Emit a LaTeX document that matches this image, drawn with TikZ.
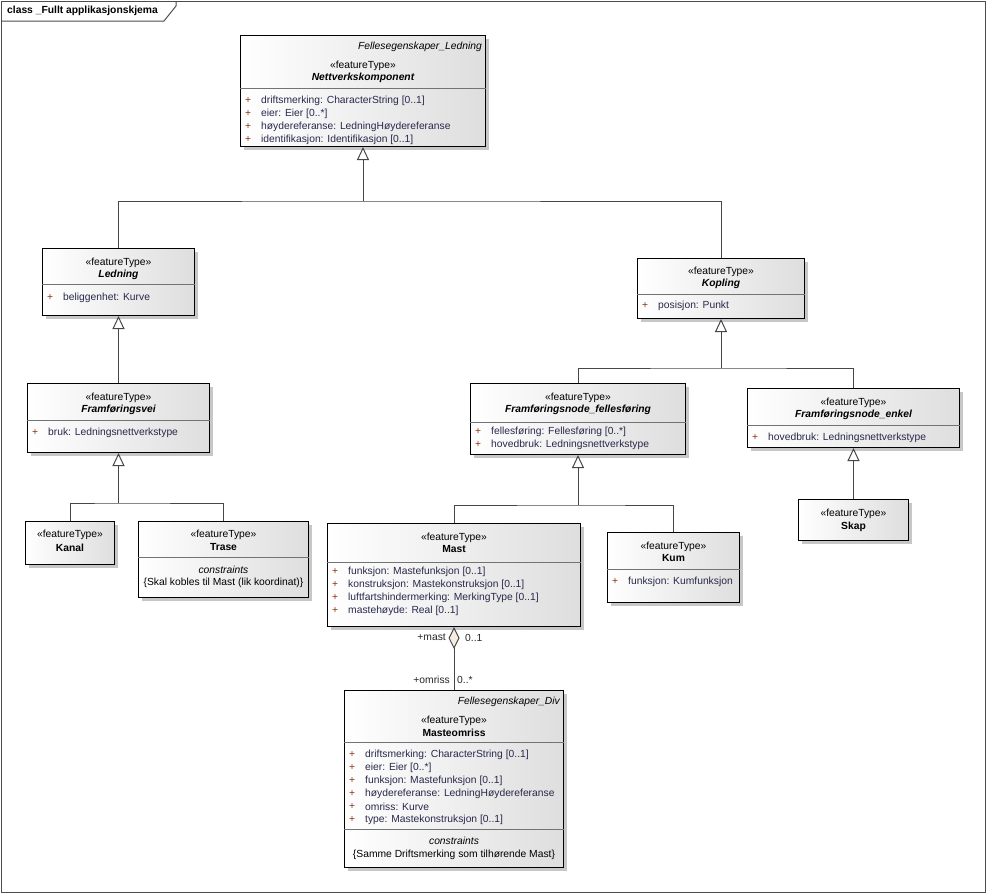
\documentclass[tikz,border=0pt]{standalone}
\usepackage{fontspec}
\setmainfont{Liberation Sans}
\usepackage{tikz}
\usetikzlibrary{positioning, arrows.meta, shadows}
\tikzstyle{diagram} = [x = 1pt, y = -1pt, every node/.style={font=\fontsize{10.3}{12}\selectfont, inner sep=0pt}]
\definecolor{lineColor}{RGB}{70,70,70}
\definecolor{boxShade}{RGB}{222,222,222}
\definecolor{plusColor}{RGB}{140,50,20}
\definecolor{attrColor}{RGB}{40,40,75}
\definecolor{diamondColor}{RGB}{245,237,224}
\tikzstyle{classStyle} = [draw=black, line width=1pt, anchor=north west, left color=white, right color=boxShade, drop shadow={shadow xshift=3pt, shadow yshift=-3pt, fill=black!40, opacity=0.55}]
\tikzstyle{compartmentLine} = [color=black!55, line width=0.8pt]
\tikzstyle{boxText} = [yshift=-1.5pt]
\tikzstyle{stereoText} = [boxText, anchor=center]
\tikzstyle{abstractText} = [boxText, anchor=center, font=\fontsize{10.3}{12}\selectfont\bfseries\itshape]
\tikzstyle{concreteText} = [boxText, anchor=center, font=\fontsize{10.3}{12}\selectfont\bfseries]
\tikzstyle{plusText} = [boxText, anchor=west, xshift=5pt, color=plusColor]
\tikzstyle{attrText} = [boxText, anchor=west, xshift=21pt, color=attrColor]
\tikzstyle{packageText} = [boxText, anchor=east, xshift=-4pt, font=\fontsize{10.3}{12}\selectfont\itshape]
\tikzstyle{constraintText} = [boxText, anchor=center]
\tikzstyle{roleText} = [color=black!85]
\tikzstyle{connLine} = [color=lineColor, line width=1pt]
\tikzstyle{genLine} = [connLine, -{Triangle[open, fill=white, length=13pt, width=12pt, line width=1pt]}]
\tikzstyle{aggLine} = [connLine, {Diamond[fill=diamondColor, length=22pt, width=11pt, line width=1pt]}-]
\tikzstyle{frameLine} = [color=black!70, line width=1pt]
\newcommand{\classBox}[5]{\node [classStyle, minimum width = #4pt, minimum height = #5pt] (#1) at (#2, #3) {};}
\newcommand{\sepLine}[2]{\draw [compartmentLine] (#1.west |- 0, #2) -- (#1.east |- 0, #2);}
\newcommand{\stereoType}[2]{\node [stereoText] (#1-stereo) at (#1.north |- 0, #2) {«featureType»};}
\newcommand{\abstractName}[3]{\node [abstractText] (#1-name) at (#1.north |- 0, #2) {#3};}
\newcommand{\concreteName}[3]{\node [concreteText] (#1-name) at (#1.north |- 0, #2) {#3};}
\newcommand{\classAttr}[4]{\node [plusText] (#1-plus#2) at (#1.west |- 0, #3) {+}; \node [attrText] (#1-attr#2) at (#1.west |- 0, #3) {#4};}
\newcommand{\packageName}[3]{\node [packageText] (#1-package) at (#1.east |- 0, #2) {#3};}

\begin{document}
\begin{tikzpicture}[diagram]
  \useasboundingbox (0,0) rectangle (986,894);
  \draw [frameLine] (1,1) rectangle (985,892);
  \draw [frameLine] (1,21) -- (164,21) -- (176,6) -- (176,1);
  \node [anchor=west, font=\fontsize{10.3}{12}\selectfont\bfseries] (frameTitle) at (7,11) {class \_Fullt applikasjonskjema};

  \classBox{nettverk}{240}{35}{245}{111}
  \sepLine{nettverk}{88}
  \packageName{nettverk}{45}{Fellesegenskaper\_Ledning}
  \stereoType{nettverk}{64}
  \abstractName{nettverk}{76}{Nettverkskomponent}
  \classAttr{nettverk}{1}{99}{driftsmerking: CharacterString [0..1]}
  \classAttr{nettverk}{2}{112}{eier: Eier [0..*]}
  \classAttr{nettverk}{3}{125}{høydereferanse: LedningHøydereferanse}
  \classAttr{nettverk}{4}{138}{identifikasjon: Identifikasjon [0..1]}

  \classBox{ledning}{42}{248}{152}{67}
  \sepLine{ledning}{284}
  \stereoType{ledning}{261}
  \abstractName{ledning}{273}{Ledning}
  \classAttr{ledning}{1}{296}{beliggenhet: Kurve}

  \classBox{kopling}{637}{258}{167}{60}
  \sepLine{kopling}{294}
  \stereoType{kopling}{270}
  \abstractName{kopling}{282}{Kopling}
  \classAttr{kopling}{1}{304}{posisjon: Punkt}

  \classBox{framvei}{27}{383}{182}{69}
  \sepLine{framvei}{420}
  \stereoType{framvei}{396}
  \abstractName{framvei}{408}{Framføringsvei}
  \classAttr{framvei}{1}{431}{bruk: Ledningsnettverkstype}

  \classBox{fellesf}{470}{383}{215}{71}
  \sepLine{fellesf}{422}
  \stereoType{fellesf}{396}
  \abstractName{fellesf}{408}{Framføringsnode\_fellesføring}
  \classAttr{fellesf}{1}{430}{fellesføring: Fellesføring [0..*]}
  \classAttr{fellesf}{2}{443}{hovedbruk: Ledningsnettverkstype}

  \classBox{enkel}{747}{388}{212}{59}
  \sepLine{enkel}{425}
  \stereoType{enkel}{401}
  \abstractName{enkel}{413}{Framføringsnode\_enkel}
  \classAttr{enkel}{1}{436}{hovedbruk: Ledningsnettverkstype}

  \classBox{kanal}{25}{521}{89}{43}
  \stereoType{kanal}{533}
  \concreteName{kanal}{546}{Kanal}

  \classBox{trase}{138}{521}{170}{76}
  \sepLine{trase}{557}
  \stereoType{trase}{533}
  \concreteName{trase}{546}{Trase}
  \node [constraintText, font=\fontsize{10.3}{12}\selectfont\itshape] (trase-ctitle) at (trase.north |- 0, 568) {constraints};
  \node [constraintText] (trase-ctext) at (trase.north |- 0, 581) {\{Skal kobles til Mast (lik koordinat)\}};

  \classBox{mast}{327}{523}{253}{103}
  \sepLine{mast}{562}
  \stereoType{mast}{536}
  \concreteName{mast}{548}{Mast}
  \classAttr{mast}{1}{570}{funksjon: Mastefunksjon [0..1]}
  \classAttr{mast}{2}{583}{konstruksjon: Mastekonstruksjon [0..1]}
  \classAttr{mast}{3}{596}{luftfartshindermerking: MerkingType [0..1]}
  \classAttr{mast}{4}{609}{mastehøyde: Real [0..1]}

  \classBox{kum}{607}{532}{132}{70}
  \sepLine{kum}{569}
  \stereoType{kum}{545}
  \concreteName{kum}{557}{Kum}
  \classAttr{kum}{1}{580}{funksjon: Kumfunksjon}

  \classBox{skap}{798}{499}{110}{41}
  \stereoType{skap}{512}
  \concreteName{skap}{525}{Skap}

  \classBox{omriss}{344}{690}{219}{177}
  \sepLine{omriss}{742}
  \sepLine{omriss}{829}
  \packageName{omriss}{700}{Fellesegenskaper\_Div}
  \stereoType{omriss}{719}
  \concreteName{omriss}{731}{Masteomriss}
  \classAttr{omriss}{1}{753}{driftsmerking: CharacterString [0..1]}
  \classAttr{omriss}{2}{766}{eier: Eier [0..*]}
  \classAttr{omriss}{3}{779}{funksjon: Mastefunksjon [0..1]}
  \classAttr{omriss}{4}{792}{høydereferanse: LedningHøydereferanse}
  \classAttr{omriss}{5}{805}{omriss: Kurve}
  \classAttr{omriss}{6}{818}{type: Mastekonstruksjon [0..1]}
  \node [constraintText, font=\fontsize{10.3}{12}\selectfont\itshape] (omriss-ctitle) at (omriss.north |- 0, 839) {constraints};
  \node [constraintText] (omriss-ctext) at (omriss.north |- 0, 853) {\{Samme Driftsmerking som tilhørende Mast\}};

  \coordinate (barTop) at (nettverk.south |- 0, 201);
  \draw [connLine] (ledning.north) |- (barTop) -| (kopling.north);
  \draw [genLine] (barTop) -- (nettverk.south);
  \draw [genLine] (framvei.north) -- (ledning.south);

  \coordinate (barKopling) at (kopling.south |- 0, 368);
  \draw [connLine] (fellesf.north) |- (barKopling) -| (enkel.north);
  \draw [genLine] (barKopling) -- (kopling.south);

  \coordinate (barVei) at (framvei.south |- 0, 503);
  \draw [connLine] (kanal.north) |- (barVei) -| (trase.north);
  \draw [genLine] (barVei) -- (framvei.south);

  \coordinate (barNode) at (fellesf.south |- 0, 505);
  \draw [connLine] (mast.north) |- (barNode) -| (kum.north);
  \draw [genLine] (barNode) -- (fellesf.south);

  \draw [genLine] (skap.north) -- (enkel.south);

  \draw [aggLine] (mast.south) -- (omriss.north);
  \node [roleText, below left = 7pt and 8pt of mast.south] (mastRole) {+mast};
  \node [roleText, below right = 7pt and 11pt of mast.south] (mastMult) {0..1};
  \node [roleText, above left = 6pt and 4pt of omriss.north] (omrissRole) {+omriss};
  \node [roleText, above right = 6pt and 3pt of omriss.north] (omrissMult) {0..*};
\end{tikzpicture}
\end{document}
